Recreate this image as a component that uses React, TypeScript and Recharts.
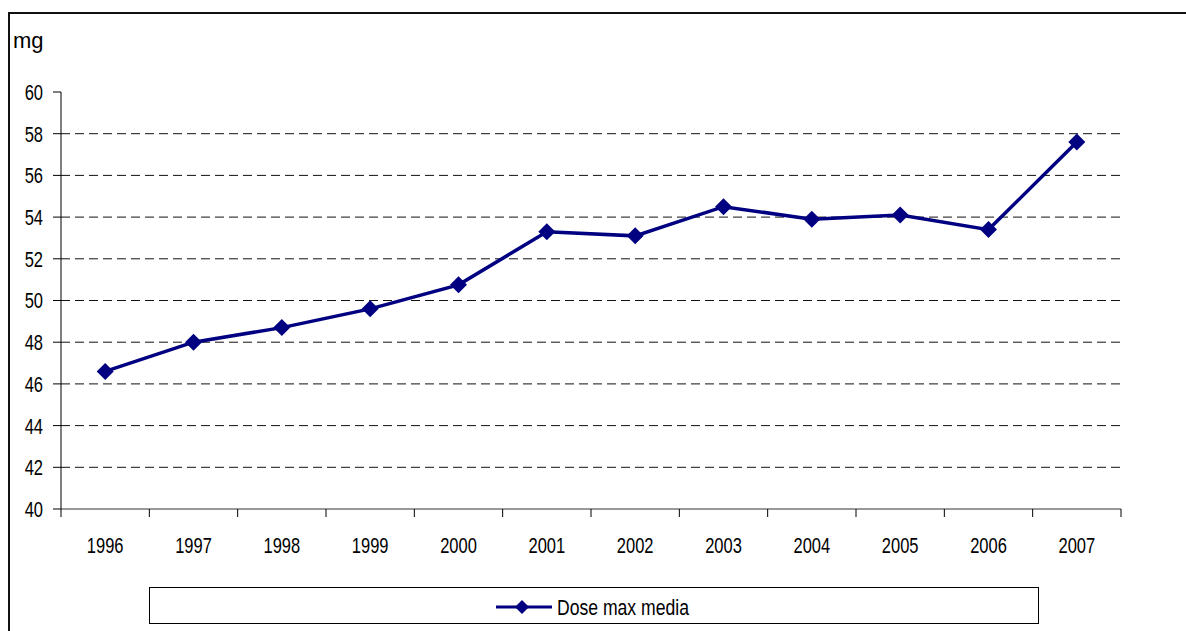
import { LineChart, Line, XAxis, YAxis, CartesianGrid, Legend } from 'recharts';

const years = ['1996', '1997', '1998', '1999', '2000', '2001', '2002', '2003', '2004', '2005', '2006', '2007'];
const doseMaxMedia = [46.6, 48.0, 48.7, 49.6, 50.75, 53.3, 53.1, 54.5, 53.9, 54.1, 53.4, 57.6];
const yTicks = [40, 42, 44, 46, 48, 50, 52, 54, 56, 58, 60];
const seriesName = 'Dose max media';
const unitLabel = 'mg';

const data = years.map((year, i) => ({ year, value: doseMaxMedia[i] }));

const NAVY = '#000080';
const FONT = '"Liberation Sans", Arial, sans-serif';
const FS = 22;
const NARROW = 0.75; // squeeze Liberation Sans to look like Arial Narrow

const W = 1186;
const H = 631;
const PLOT_LEFT = 61;
const PLOT_RIGHT = 1121;

const Diamond = (props: any) => {
  const { cx, cy } = props;
  if (cx == null || cy == null) return null;
  const r = 8.5;
  return <polygon points={`${cx},${cy - r} ${cx + r},${cy} ${cx},${cy + r} ${cx - r},${cy}`} fill={NAVY} stroke="none" />;
};

const NarrowText = ({ x, y, anchor, dy, children }: any) => (
  <g transform={`translate(${x},${y}) scale(${NARROW},1)`}>
    <text x={0} y={0} dy={dy} textAnchor={anchor} fontSize={FS} fontFamily={FONT} fill="#000">
      {children}
    </text>
  </g>
);

const YearTick = (props: any) => {
  const { x, y, payload, index } = props;
  const half = payload?.offset || (PLOT_RIGHT - PLOT_LEFT) / years.length / 2;
  const last = index === years.length - 1;
  return (
    <g>
      <line x1={x - half} x2={x - half} y1={y} y2={y + 8} stroke="#000" />
      {last && <line x1={x + half} x2={x + half} y1={y} y2={y + 8} stroke="#000" />}
      <NarrowText x={x} y={y + 28} anchor="middle" dy="0.71em">
        {payload.value}
      </NarrowText>
    </g>
  );
};

const ValueTick = (props: any) => {
  const { x, y, payload } = props;
  return (
    <NarrowText x={x} y={y} anchor="end" dy="0.36em">
      {payload.value}
    </NarrowText>
  );
};

const LegendBox = () => (
  <div style={{ display: 'flex', alignItems: 'center', justifyContent: 'center', height: '100%' }}>
    <svg width={205} height={34} style={{ marginLeft: 6 }}>
      <line x1={1} x2={57} y1={18} y2={18} stroke={NAVY} strokeWidth={3} />
      <polygon points="27,11 34,18 27,25 20,18" fill={NAVY} />
      <g transform="translate(62,18) scale(0.8,1)">
        <text x={0} y={0} dy="0.36em" fontSize={FS} fontFamily={FONT} fill="#000" style={{ whiteSpace: 'pre' }}>
          {seriesName}
        </text>
      </g>
    </svg>
  </div>
);

export default function App() {
  return (
    <div style={{ position: 'absolute', left: 0, top: 0, width: W, height: H, overflow: 'hidden', background: '#fff' }}>
      <div
        style={{
          position: 'absolute',
          left: 8,
          top: 12,
          width: W,
          height: H,
          borderLeft: '2px solid #111',
          borderTop: '2px solid #111',
        }}
      />
      <div style={{ position: 'absolute', left: 13, top: 28, fontFamily: FONT, fontSize: 22, color: '#000' }}>
        {unitLabel}
      </div>
      <div style={{ position: 'absolute', left: 0, top: 0 }}>
        <LineChart width={W} height={H} data={data} margin={{ top: 92, right: 65, bottom: 82, left: 11 }}>
          <CartesianGrid
            vertical={false}
            horizontalValues={yTicks.slice(1, -1)}
            stroke="#111"
            strokeDasharray="9 5"
          />
          <XAxis
            dataKey="year"
            scale="band"
            height={40}
            tickLine={false}
            tickSize={0}
            tickMargin={0}
            axisLine={{ stroke: '#333' }}
            tick={<YearTick />}
            interval={0}
          />
          <XAxis xAxisId="top" orientation="top" dataKey="year" scale="band" height={0} tick={false} tickLine={false} axisLine={{ stroke: '#808080', strokeWidth: 2 }} />
          <YAxis
            domain={[40, 60]}
            ticks={yTicks}
            width={50}
            tickSize={8}
            tickMargin={10}
            axisLine={{ stroke: '#000' }}
            tickLine={{ stroke: '#000' }}
            tick={<ValueTick />}
            interval={0}
          />
          <YAxis yAxisId="right" orientation="right" domain={[40, 60]} width={0} tick={false} tickLine={false} axisLine={{ stroke: '#808080', strokeWidth: 2 }} />
          <Legend
            layout="horizontal"
            verticalAlign="middle"
            align="center"
            wrapperStyle={{ left: 149, top: 587, width: 890, height: 37, border: '1px solid #000', boxSizing: 'border-box' }}
            content={<LegendBox />}
          />
          <Line
            type="linear"
            dataKey="value"
            name={seriesName}
            stroke={NAVY}
            strokeWidth={3.5}
            dot={<Diamond />}
            activeDot={false}
            isAnimationActive={false}
          />
        </LineChart>
      </div>
    </div>
  );
}
